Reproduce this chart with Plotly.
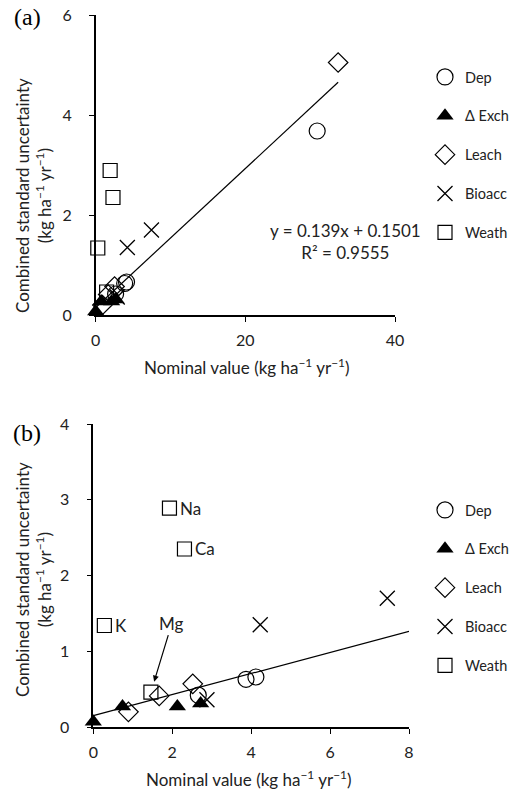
import numpy as np
import plotly.graph_objects as go

# ---------------- data ----------------
dep_x = [2.66, 3.87, 4.12, 29.6]
dep_y = [0.42, 0.63, 0.66, 3.68]
exch_x = [0.0, 0.74, 2.13, 2.72]
exch_y = [0.07, 0.27, 0.27, 0.31]
leach_x = [0.89, 1.67, 2.52, 32.4]
leach_y = [0.20, 0.41, 0.57, 5.05]
bio_x = [2.88, 4.23, 7.45]
bio_y = [0.36, 1.35, 1.70]
weath_x = [0.28, 1.46, 1.93, 2.31]
weath_y = [1.34, 0.46, 2.89, 2.35]
weath_labels = ["K", "Mg", "Na", "Ca"]

slope = 0.139
intercept = 0.1501
r2 = 0.9555

series = [
    ("Dep", dep_x, dep_y, dict(symbol="circle-open", size=16, color="black", line=dict(width=1.2, color="black"))),
    ("\u0394 Exch", exch_x, exch_y, dict(symbol="triangle-up", size=15, color="black", line=dict(width=0))),
    ("Leach", leach_x, leach_y, dict(symbol="diamond-open", size=15, color="black", line=dict(width=1.2, color="black"))),
    ("Bioacc", bio_x, bio_y, dict(symbol="x-thin-open", size=15, color="black", line=dict(width=1.3, color="black"))),
    ("Weath", weath_x, weath_y, dict(symbol="square-open", size=14, color="black", line=dict(width=1.2, color="black"))),
]

FONT = "Lato"
TXT = "#222"
W, H = 510, 790

fig = go.Figure()

panels = [
    dict(xa="x", ya="y", legend="legend", xmax=40, ymax=6, grp="a"),
    dict(xa="x2", ya="y2", legend="legend2", xmax=8, ymax=4, grp="b"),
]

all_x = np.concatenate([dep_x, exch_x, leach_x, bio_x, weath_x])
for p in panels:
    for name, xs, ys, mk in series:
        xs_a = np.array(xs)
        ys_a = np.array(ys)
        keep = xs_a <= p["xmax"]
        fig.add_trace(go.Scatter(
            x=xs_a[keep], y=ys_a[keep], mode="markers", name=name,
            marker=mk, xaxis=p["xa"], yaxis=p["ya"], legend=p["legend"],
            legendgroup=p["grp"] + name, cliponaxis=False,
        ))
    # regression line
    x_end = min(all_x.max(), p["xmax"])
    lx = np.array([0.0, x_end])
    fig.add_trace(go.Scatter(
        x=lx, y=slope * lx + intercept, mode="lines",
        line=dict(color="black", width=1.2), showlegend=False,
        xaxis=p["xa"], yaxis=p["ya"], hoverinfo="skip",
    ))

def px_x(v):
    return v / W

def px_y(v):
    return 1 - v / H

axis_common = dict(
    showgrid=False, zeroline=False, showline=True, linecolor="black", linewidth=1.5,
    ticks="outside", ticklen=5, tickwidth=1.2, tickcolor="black",
    tickfont=dict(family=FONT, size=16, color=TXT), automargin=False,
)
xcommon = dict(axis_common, ticklabelstandoff=5)
ycommon = dict(axis_common, ticklabelstandoff=14)

legend_font = dict(family=FONT, size=14.5, color=TXT)

fig.update_layout(
    width=W, height=H, margin=dict(l=0, r=0, t=0, b=0, autoexpand=False),
    plot_bgcolor="white", paper_bgcolor="white",
    font=dict(family=FONT, size=16, color="black"),
    xaxis=dict(domain=[px_x(95.7), px_x(395)], range=[0, 40], tickvals=[0, 20, 40], anchor="y", **xcommon),
    yaxis=dict(domain=[px_y(315), px_y(15)], range=[0, 6], tickvals=[0, 2, 4, 6], anchor="x", **ycommon),
    xaxis2=dict(domain=[px_x(93.3), px_x(409)], range=[0, 8], tickvals=[0, 2, 4, 6, 8], anchor="y2", **xcommon),
    yaxis2=dict(domain=[px_y(727), px_y(424)], range=[0, 4], tickvals=[0, 1, 2, 3, 4], anchor="x2", **ycommon),
    legend=dict(x=px_x(425), y=px_y(61), xanchor="left", yanchor="top", traceorder="grouped",
                tracegroupgap=17, font=legend_font, bgcolor="rgba(0,0,0,0)"),
    legend2=dict(x=px_x(425), y=px_y(494), xanchor="left", yanchor="top", traceorder="grouped",
                 tracegroupgap=17, font=legend_font, bgcolor="rgba(0,0,0,0)"),
)

ann = []
ytitle = "Combined standard uncertainty<br>(kg ha<sup>\u22121</sup> yr<sup>\u22121</sup>)"
xtitle = "Nominal value (kg ha<sup>\u22121</sup> yr<sup>\u22121</sup>)"
for (cx, cy) in [(33, 196), (33, 580)]:
    ann.append(dict(text=ytitle, x=px_x(cx), y=px_y(cy), xref="paper", yref="paper",
                    textangle=-90, showarrow=False, font=dict(family=FONT, size=17, color=TXT),
                    xanchor="center", yanchor="middle"))
for (cx, cy) in [(247, 366), (249, 778)]:
    ann.append(dict(text=xtitle, x=px_x(cx), y=px_y(cy), xref="paper", yref="paper",
                    showarrow=False, font=dict(family=FONT, size=17, color=TXT),
                    xanchor="center", yanchor="middle"))
for (lab, cx, cy) in [("(a)", 27, 17), ("(b)", 27, 433)]:
    ann.append(dict(text=lab, x=px_x(cx), y=px_y(cy), xref="paper", yref="paper",
                    showarrow=False, font=dict(family="Liberation Serif", size=24, color="black"),
                    xanchor="center", yanchor="middle"))
# equation
ann.append(dict(text=f"y = {slope}x + {intercept}<br>R\u00b2 = {r2}", x=px_x(423), y=px_y(241),
                xref="paper", yref="paper", showarrow=False, align="center",
                font=dict(family=FONT, size=17, color=TXT), xanchor="right", yanchor="middle"))
# weathering labels in panel b
for lab, xv, yv in zip(weath_labels, weath_x, weath_y):
    if lab == "Mg":
        ann.append(dict(text=lab, x=xv, y=yv, xref="x2", yref="y2", showarrow=True,
                        arrowhead=2, arrowsize=1, arrowwidth=1.2, arrowcolor="black",
                        ax=21, ay=-69, standoff=11, font=dict(family=FONT, size=17, color=TXT)))
    else:
        ann.append(dict(text=lab, x=xv, y=yv, xref="x2", yref="y2", showarrow=False,
                        xanchor="left", yanchor="middle", xshift=9,
                        font=dict(family=FONT, size=17, color=TXT)))
fig.update_layout(annotations=ann)

fig.write_html("out.html")
